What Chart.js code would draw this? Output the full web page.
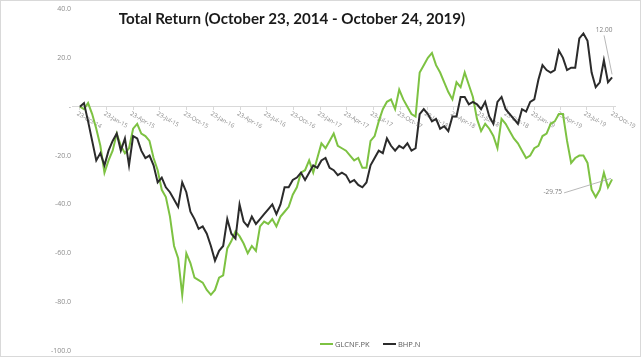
<!DOCTYPE html>
<html><head><meta charset="utf-8">
<script src="https://cdn.jsdelivr.net/npm/chart.js@4.4.1/dist/chart.umd.min.js"></script>
<style>html,body{margin:0;padding:0;background:#fff;overflow:hidden;} #wrap{width:641px;height:357px;position:relative;}</style>
</head><body><div id="wrap"><canvas id="c" width="641" height="357"></canvas></div>
<script>
const chartTitle = "Total Return (October 23, 2014 - October 24, 2019)";
const seriesNames = ["GLCNF.PK", "BHP.N"];
const seriesColors = ["#7dc242", "#2b2b2b"];
const startDate = "2014-10-23";
const stepDays = 14;

const glcnf = [0,-1,1.5,-3,-9,-16,-27,-22,-18,-11,-16,-19,-17,-9,-7,-11,-12,-14,-21,-26,
  -34,-37,-45,-57,-62,-77,-60,-64,-70,-71,-72,-75,-77,-75,-70,-69,-58,-55,-51,-53,
  -56,-60,-57,-59,-49,-47,-48,-46,-49,-45,-43,-41,-36,-33,-27,-26,-22,-27,-21,-15,
  -17,-14,-11,-16,-17,-18,-20,-22,-21,-25,-25,-14,-12,-6,-1,2,3,-1,7,3,
  0,-3,-4,14,17,20,22,17,14,10,6,3,10,8,14,9,4,-5,-10,-7,
  -9,-12,-17,-5,-7,-10,-13,-15,-18,-21,-20,-17,-16,-12,-11,-7,-6,-3,-3,-14,
  -23,-21,-20,-20,-23,-34,-37,-34,-27,-33,-29.75];

const bhp = [0,1.5,-6,-14,-22,-19,-24,-18,-14,-11,-18,-13,-24,-12,-13,-18,-21,-20,-24,-31,
  -29,-33,-35,-38,-41,-31,-35,-43,-46,-50,-49,-52,-57,-63,-59,-57,-46,-52,-54,-40,
  -47,-49,-45,-48,-46,-44,-42,-40,-44,-40,-33,-33,-30,-29,-27,-30,-27,-24,-25,-22,
  -21,-25,-26,-28,-27,-28,-31,-30,-32,-33,-31,-24,-21,-18,-19,-13,-16,-18,-16,-17,
  -15,-18,-17,-3,-1,-3,-6,-5,-9,-8,-10,-4,-4,4,4,1,2,1,-1,2,
  -4,-7,2,4,-1,-3,-5,-7,-1,-2,2,3,11,17,15,14,15,23,20,15,
  16,16,28,30,27,14,8,10,19,10,12];

const tickDates = ["2014-10-23","2015-01-23","2015-04-23","2015-07-23","2015-10-23","2016-01-23","2016-04-23",
  "2016-07-23","2016-10-23","2017-01-23","2017-04-23","2017-07-23","2017-10-23","2018-01-23","2018-04-23",
  "2018-07-23","2018-10-23","2019-01-23","2019-04-23","2019-07-23","2019-10-23"];
const tickLabels = ["23-Oct-14","23-Jan-15","23-Apr-15","23-Jul-15","23-Oct-15","23-Jan-16","23-Apr-16",
  "23-Jul-16","23-Oct-16","23-Jan-17","23-Apr-17","23-Jul-17","23-Oct-17","23-Jan-18","23-Apr-18",
  "23-Jul-18","23-Oct-18","23-Jan-19","23-Apr-19","23-Jul-19","23-Oct-19"];
const yTicks = [40, 20, 0, -20, -40, -60, -80, -100];
const endLabels = ["-29.75", "12.00"];

const dayOf = d => (Date.parse(d) - Date.parse(startDate)) / 86400000;
const tickDays = tickDates.map(dayOf);
const toPoints = arr => arr.map((v, i) => ({x: i * stepDays, y: v}));

const overlay = {
  id: 'overlay',
  beforeDatasetsDraw(chart) {
    const ctx = chart.ctx, xs = chart.scales.x, ys = chart.scales.y;
    const y0 = ys.getPixelForValue(0);
    ctx.save();
    ctx.fillStyle = '#8c8c8c';
    ctx.font = '6px "Open Sans"';
    ctx.textAlign = 'left';
    ctx.textBaseline = 'top';
    tickDays.forEach((d, i) => {
      const px = xs.getPixelForValue(d);
      ctx.save();
      ctx.translate(px - 1, y0 + 4);
      ctx.rotate(30 * Math.PI / 180);
      ctx.fillText(tickLabels[i], 0, 0);
      ctx.restore();
    });
    ctx.restore();
  },
  afterDraw(chart) {
    const ctx = chart.ctx;
    ctx.save();
    ctx.fillStyle = '#1a1a1a';
    ctx.font = '700 20px Lato';
    const w = ctx.measureText(chartTitle).width;
    const size = 20 * 347 / w;
    ctx.font = `700 ${size}px Lato`;
    ctx.textAlign = 'center';
    ctx.textBaseline = 'middle';
    ctx.fillText(chartTitle, 292, 19);
    ctx.font = '7.5px "Open Sans"';
    ctx.textAlign = 'left';
    const lx = [320, 383];
    seriesNames.forEach((n, i) => {
      ctx.strokeStyle = seriesColors[i];
      ctx.lineWidth = 2;
      ctx.beginPath(); ctx.moveTo(lx[i], 344); ctx.lineTo(lx[i] + 13, 344); ctx.stroke();
      ctx.fillStyle = '#595959';
      ctx.fillText(n, lx[i] + 15, 344.5);
    });
    const metas = [chart.getDatasetMeta(0), chart.getDatasetMeta(1)];
    ctx.font = '6.5px "Open Sans"';
    ctx.strokeStyle = '#a6a6a6';
    ctx.lineWidth = 0.8;
    ctx.fillStyle = '#7f7f7f';
    let p = metas[1].data[metas[1].data.length - 1];
    ctx.textAlign = 'center';
    ctx.fillText(endLabels[1], p.x - 8, p.y - 47);
    ctx.beginPath(); ctx.moveTo(p.x - 8, p.y - 42); ctx.lineTo(p.x, p.y - 3); ctx.stroke();
    p = metas[0].data[metas[0].data.length - 1];
    ctx.textAlign = 'right';
    ctx.fillText(endLabels[0], p.x - 50, p.y + 13);
    ctx.beginPath(); ctx.moveTo(p.x - 48, p.y + 13.5); ctx.lineTo(p.x - 1, p.y - 1); ctx.stroke();
    ctx.strokeStyle = '#d9d9d9';
    ctx.lineWidth = 1;
    ctx.strokeRect(0.5, 0.5, 640, 356);
    ctx.restore();
  }
};

new Chart(document.getElementById('c'), {
  type: 'line',
  data: {
    datasets: [
      {label: seriesNames[0], data: toPoints(glcnf), borderColor: seriesColors[0], borderWidth: 2, pointRadius: 0, tension: 0, order: 1},
      {label: seriesNames[1], data: toPoints(bhp), borderColor: seriesColors[1], borderWidth: 2, pointRadius: 0, tension: 0, order: 0}
    ]
  },
  options: {
    responsive: false,
    animation: false,
    layout: {padding: {top: 9, bottom: 6, right: 26, left: 0}},
    plugins: {legend: {display: false}, tooltip: {enabled: false}, title: {display: false}},
    scales: {
      x: {
        type: 'linear', min: -27, max: 1830, position: {y: 0},
        afterBuildTicks: s => { s.ticks = tickDays.map(v => ({value: v})); },
        afterFit: s => { s.height = 0; },
        ticks: {display: false},
        grid: {drawOnChartArea: false, drawTicks: true, tickLength: 3, color: '#d9d9d9'},
        border: {color: '#d9d9d9', width: 1}
      },
      y: {
        min: -100, max: 40,
        afterBuildTicks: s => { s.ticks = yTicks.map(v => ({value: v})); },
        afterFit: s => { s.width = 72; },
        ticks: {color: '#8c8c8c', font: {size: 7, family: '"Open Sans"'}, padding: 1,
          callback: v => v === 0 ? '-' : v.toFixed(1)},
        grid: {display: false, drawTicks: false},
        border: {display: false}
      }
    }
  },
  plugins: [overlay]
});
</script></body></html>
